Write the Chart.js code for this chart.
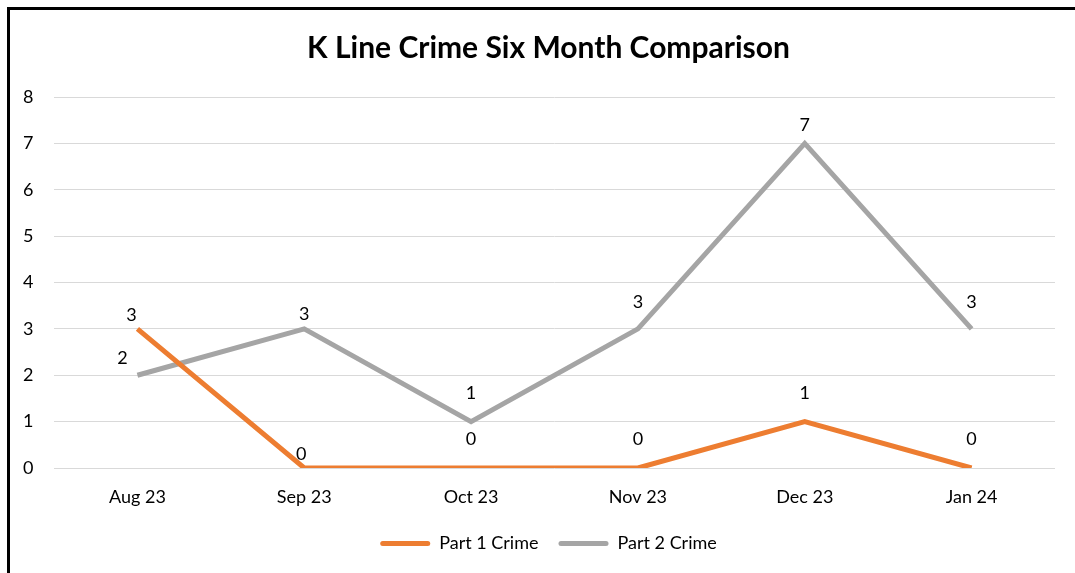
<!DOCTYPE html>
<html>
<head>
<meta charset="utf-8">
<title>K Line Crime Six Month Comparison</title>
<script src="https://cdn.jsdelivr.net/npm/chart.js@4.4.1/dist/chart.umd.min.js"></script>
<style>
  html, body { margin: 0; padding: 0; background: #fff; overflow: hidden; }
  #frame {
    position: absolute; left: 7px; top: 7px;
    width: 1200px; height: 700px;
    border-left: 3px solid #000; border-top: 3px solid #000;
  }
  #wrap { position: absolute; left: 0; top: 0; width: 1075px; height: 573px; }
</style>
</head>
<body>
<div id="frame"></div>
<div id="wrap"><canvas id="crimeChart" width="1075" height="573"></canvas></div>
<script>
// chart data
const months = ['Aug 23', 'Sep 23', 'Oct 23', 'Nov 23', 'Dec 23', 'Jan 24'];
const part1Crime = [3, 0, 0, 0, 1, 0];
const part2Crime = [2, 3, 1, 3, 7, 3];
const yTicks = [0, 1, 2, 3, 4, 5, 6, 7, 8];

const FONT = 'Lato, "Open Sans", sans-serif';

// simple value labels above each point
const pointLabels = {
  id: 'pointLabels',
  afterDatasetsDraw(chart, args, opts) {
    const ctx = chart.ctx;
    ctx.save();
    ctx.font = '18px ' + FONT;
    ctx.fillStyle = '#000';
    ctx.textAlign = 'center';
    ctx.textBaseline = 'middle';
    chart.data.datasets.forEach((ds, i) => {
      const meta = chart.getDatasetMeta(i);
      meta.data.forEach((pt, j) => {
        const lift = opts.lift[i][j];
        const dx = opts.shiftX[i][j];
        ctx.fillText(String(ds.data[j]), pt.x + dx, pt.y - lift);
      });
    });
    ctx.restore();
  }
};

const ctx = document.getElementById('crimeChart');
new Chart(ctx, {
  type: 'line',
  data: {
    labels: months,
    datasets: [{
      label: 'Part 1 Crime',
      data: part1Crime,
      borderColor: '#ED7D31',
      backgroundColor: '#ED7D31',
      borderWidth: 5,
      pointRadius: 0,
      tension: 0
    }, {
      label: 'Part 2 Crime',
      data: part2Crime,
      borderColor: '#A5A5A5',
      backgroundColor: '#A5A5A5',
      borderWidth: 5,
      pointRadius: 0,
      tension: 0
    }]
  },
  plugins: [pointLabels],
  options: {
    responsive: false,
    animation: false,
    layout: { padding: { left: 42, right: 20, top: 0, bottom: 10.5 } },
    scales: {
      x: {
        offset: true,
        grid: { display: false, drawTicks: false },
        border: { display: false },
        ticks: { color: '#000', font: { family: FONT, size: 18 }, padding: 18 },
        afterFit(scale) { scale.height = 46.5; }
      },
      y: {
        min: 0,
        max: 8,
        afterBuildTicks(scale) { scale.ticks = yTicks.map(v => ({ value: v })); },
        grid: { color: '#D9D9D9', lineWidth: 1, drawTicks: false },
        border: { display: false },
        // mirrored so the labels are not clipped to the narrow axis box
        ticks: { color: '#000', font: { family: FONT, size: 18 }, mirror: true, padding: -31 },
        afterFit(scale) { scale.width = 12; }
      }
    },
    plugins: {
      title: {
        display: true,
        text: 'K Line Crime Six Month Comparison',
        color: '#000',
        font: { family: FONT, size: 30, weight: 'bold' },
        padding: { top: 30, bottom: 31 }
      },
      legend: {
        position: 'bottom',
        labels: {
          boxWidth: 50,
          boxHeight: 5,
          useBorderRadius: true,
          borderRadius: 2.5,
          padding: 20,
          color: '#000',
          font: { family: FONT, size: 18 },
          generateLabels(chart) {
            return Chart.defaults.plugins.legend.labels.generateLabels(chart)
              .map(l => Object.assign(l, { lineWidth: 0 }));
          }
        }
      },
      tooltip: { enabled: false },
      pointLabels: {
        lift: [[14, 14, 29, 29, 28, 29], [17, 15, 28, 27, 18, 27]],
        shiftX: [[-6, -3, 0, 0, 0, 0], [-15, 0, 0, 0, 0, 0]]
      }
    }
  }
});
</script>
</body>
</html>
